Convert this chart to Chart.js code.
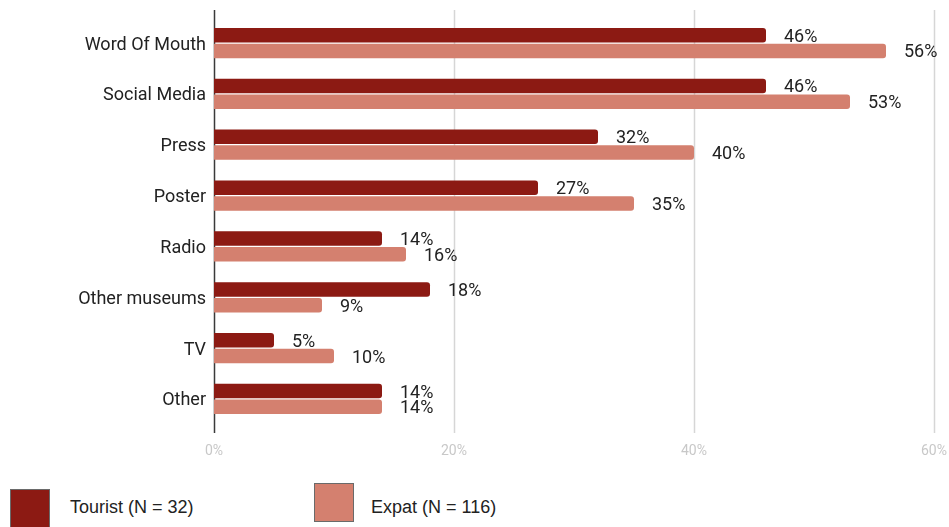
<!DOCTYPE html>
<html>
<head>
<meta charset="utf-8">
<script src="https://cdn.jsdelivr.net/npm/chart.js@4/dist/chart.umd.min.js"></script>
<style>
  html, body { margin: 0; padding: 0; background: #fff; overflow: hidden; }
  #wrap { position: relative; width: 949px; height: 527px; }
  #chartBox { position: absolute; left: 0; top: 0; width: 949px; height: 470px; }
  .legend-item { position: absolute; display: flex; align-items: center; font-family: "Liberation Sans", Arial, sans-serif; font-size: 18px; color: #222; }
  .legend-swatch { position: absolute; border: 1px solid #6a6a6a; box-sizing: border-box; }
</style>
</head>
<body>
<div id="wrap">
  <div id="chartBox"><canvas id="chart"></canvas></div>
  <div id="legend"></div>
</div>
<script>
const categories = ["Word Of Mouth", "Social Media", "Press", "Poster", "Radio", "Other museums", "TV", "Other"];
const touristValues = [46, 46, 32, 27, 14, 18, 5, 14];
const expatValues = [56, 53, 40, 35, 16, 9, 10, 14];
const seriesNames = ["Tourist (N = 32)", "Expat (N = 116)"];
const xTicks = [0, 20, 40, 60];

const darkRed = "#8c1a13";
const salmon = "#d4806f";

// vertical grid lines drawn a bit taller than the plot area
const gridLines = {
  id: "gridLines",
  beforeDatasetsDraw(chart) {
    const ctx = chart.ctx;
    const x = chart.scales.x;
    ctx.save();
    xTicks.forEach((t) => {
      const px = Math.round(x.getPixelForValue(t)) + 0.5;
      ctx.beginPath();
      ctx.lineWidth = 1.5;
      ctx.strokeStyle = t === 0 ? "#3a3a3a" : "#d6d6d6";
      ctx.moveTo(px, 10);
      ctx.lineTo(px, 433);
      ctx.stroke();
    });
    ctx.restore();
  },
};

// percentage labels after each bar
const valueLabels = {
  id: "valueLabels",
  afterDatasetsDraw(chart) {
    const ctx = chart.ctx;
    ctx.save();
    ctx.font = "18px Roboto";
    ctx.fillStyle = "#222";
    ctx.textBaseline = "middle";
    ctx.textAlign = "left";
    chart.data.datasets.forEach((ds, i) => {
      chart.getDatasetMeta(i).data.forEach((bar, j) => {
        ctx.fillText(ds.data[j] + "%", bar.x + 18, bar.y + 2);
      });
    });
    ctx.restore();
  },
};

const chart = new Chart(document.getElementById("chart"), {
  type: "bar",
  data: {
    labels: categories,
    datasets: [
      {
        label: seriesNames[0],
        data: touristValues,
        backgroundColor: darkRed,
        borderRadius: 3,
        borderSkipped: "start",
        categoryPercentage: 0.62,
        barPercentage: 0.92,
      },
      {
        label: seriesNames[1],
        data: expatValues,
        backgroundColor: salmon,
        borderRadius: 3,
        borderSkipped: "start",
        categoryPercentage: 0.62,
        barPercentage: 0.92,
      },
    ],
  },
  options: {
    indexAxis: "y",
    responsive: true,
    maintainAspectRatio: false,
    animation: false,
    layout: { padding: { top: 17.6, right: 15, left: 0, bottom: 0 } },
    plugins: {
      legend: { display: false },
      tooltip: { enabled: false },
    },
    scales: {
      x: {
        min: 0,
        max: 60,
        afterBuildTicks(scale) {
          scale.ticks = xTicks.map((v) => ({ value: v }));
        },
        afterFit(scale) {
          scale.height = 45.6;
          scale.paddingLeft = 0;
          scale.paddingRight = 0;
        },
        grid: { display: false },
        border: { display: false },
        ticks: {
          padding: 11,
          color: "#c8c8c8",
          font: { family: "Roboto", size: 14 },
          callback: (v) => v + "%",
        },
      },
      y: {
        afterFit(scale) {
          scale.width = 214;
        },
        grid: { display: false },
        border: { display: false },
        ticks: {
          padding: 0,
          labelOffset: 2,
          color: "#222",
          font: { family: "Roboto", size: 18 },
        },
      },
    },
  },
  plugins: [gridLines, valueLabels],
});

// legend below the chart
const legendSpots = [
  { box: [10, 489, 40], text: [70, 508] },
  { box: [314, 483, 39], text: [371, 508] },
];
const legend = document.getElementById("legend");
chart.data.datasets.forEach((ds, i) => {
  const spot = legendSpots[i];
  const sw = document.createElement("div");
  sw.className = "legend-swatch";
  sw.style.left = spot.box[0] + "px";
  sw.style.top = spot.box[1] + "px";
  sw.style.width = "40px";
  sw.style.height = spot.box[2] + "px";
  sw.style.background = ds.backgroundColor;
  legend.appendChild(sw);
  const tx = document.createElement("div");
  tx.className = "legend-item";
  tx.style.left = spot.text[0] + "px";
  tx.style.top = spot.text[1] - 11 + "px";
  tx.textContent = ds.label;
  legend.appendChild(tx);
});
</script>
</body>
</html>
